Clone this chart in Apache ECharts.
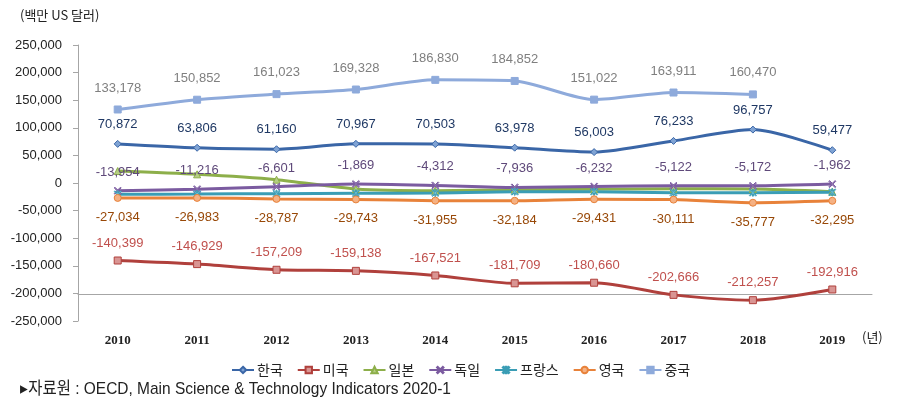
<!DOCTYPE html>
<html><head><meta charset="utf-8">
<script src="https://cdn.jsdelivr.net/npm/echarts@6/dist/echarts.min.js"></script>
<style>html,body{margin:0;padding:0;background:#fff}#c{width:902px;height:413px}</style>
</head><body><div id="c"></div>
<script>
const years = ['2010','2011','2012','2013','2014','2015','2016','2017','2018','2019'];
const korea   = [70872, 63806, 61160, 70967, 70503, 63978, 56003, 76233, 96757, 59477];
const usa     = [-140399, -146929, -157209, -159138, -167521, -181709, -180660, -202666, -212257, -192916];
const japan   = [21700, 15700, 6000, -10900, -13900, -12100, -11400, -10300, -10900, -15700];
const germany = [-13954, -11216, -6601, -1869, -4312, -7936, -6232, -5122, -5172, -1962];
const france  = [-20500, -20000, -19300, -18700, -18000, -15700, -15700, -17500, -17500, -16900];
const uk      = [-27034, -26983, -28787, -29743, -31955, -32184, -29431, -30111, -35777, -32295];
const china   = [133178, 150852, 161023, 169328, 186830, 184852, 151022, 163911, 160470, null];
const yTicks  = {min: -250000, max: 250000, interval: 50000};

const fmt = v => String(v).replace(/\B(?=(\d{3})+(?!\d))/g, ',');
const FONT = "'Liberation Sans', Arial, sans-serif";

function mk(name, data, color, fill, symbol, lbl) {
  const s = {
    name, type: 'line', data, smooth: 0.25,
    symbol, symbolSize: 7,
    lineStyle: {color, width: 3},
    itemStyle: {color: fill, borderColor: color, borderWidth: 1},
    emphasis: {disabled: true},
  };
  if (lbl) {
    s.label = {show: true, position: lbl.pos, distance: lbl.dist, color: lbl.color,
      fontSize: 13, fontFamily: FONT, formatter: p => fmt(p.value)};
  }
  return s;
}
const X = 'path://M0,1L1,0L5,4L9,0L10,1L6,5L10,9L9,10L5,6L1,10L0,9L4,5Z';
const STAR = 'path://M0,1L1,0L4.3,3.3L4.3,0L5.7,0L5.7,3.3L9,0L10,1L6.4,4.6L6.4,5.4L10,9L9,10L5.7,6.7L5.7,10L4.3,10L4.3,6.7L1,10L0,9L3.6,5.4L3.6,4.6Z';
const PLUS = 'path://M4.2,0L5.8,0L5.8,10L4.2,10Z';

const chart = echarts.init(document.getElementById('c'), null, {renderer: 'canvas'});
chart.setOption({
  animation: false,
  backgroundColor: '#fff',
  grid: {left: 78, right: 30, top: 45, bottom: 92, containLabel: false},
  xAxis: {
    type: 'category', data: years, position: 'bottom', offset: -27,
    axisLine: {onZero: false, lineStyle: {color: '#a6a6a6', width: 1}},
    axisTick: {inside: true, length: 4, lineStyle: {color: '#a6a6a6'}},
    axisLabel: {margin: 40, color: '#222', fontSize: 13, fontWeight: 'bold', fontFamily: "'Liberation Serif', serif"},
  },
  yAxis: {
    type: 'value', min: yTicks.min, max: yTicks.max, interval: yTicks.interval,
    axisLine: {show: true, lineStyle: {color: '#a6a6a6'}},
    axisTick: {show: true, length: 5, lineStyle: {color: '#a6a6a6'}},
    splitLine: {show: false},
    axisLabel: {margin: 16, color: '#222', fontSize: 13, fontFamily: FONT, formatter: v => fmt(v)},
  },
  legend: {
    left: 226, top: 358, itemWidth: 22, itemHeight: 8, itemGap: 14,
    textStyle: {fontSize: 14, color: '#222', fontFamily: "'Noto Sans CJK KR', sans-serif", padding: [0,0,0,-2]},
    data: ['한국','미국','일본','독일','프랑스','영국','중국'],
  },
  graphic: [
    {type: 'text', left: 20, top: 9, style: {text: '(백만 US 달러)', fontSize: 13, fill: '#222', fontFamily: "'Noto Sans CJK KR', sans-serif"}},
    {type: 'text', left: 862, top: 331, style: {text: '(년)', fontSize: 13, fill: '#222', fontFamily: "'Noto Sans CJK KR', sans-serif"}},
    {type: 'text', x: 20, y: 381, scaleX: 0.91, style: {text: '▸자료원 : OECD, Main Science & Technology Indicators 2020-1', fontSize: 17, fill: '#222', fontFamily: "'Liberation Sans', 'Noto Sans CJK KR', sans-serif"}},
  ],
  series: [
    mk('한국', korea, '#3A66A7', '#7FA3D4', 'diamond', {pos: 'top', dist: 9, color: '#1F3864'}),
    mk('미국', usa, '#B0403C', '#D99593', 'rect', {pos: 'top', dist: 7, color: '#C0504D'}),
    mk('일본', japan, '#8DAF4A', '#B5CE83', 'triangle', null),
    mk('독일', germany, '#7B5BA0', '#9F87BE', X, {pos: 'top', dist: 8, color: '#5F497A'}),
    mk('프랑스', france, '#3A9DB5', '#7FC6D8', STAR, null),
    mk('영국', uk, '#E8823A', '#F5B183', 'circle', {pos: 'bottom', dist: 9, color: '#984807'}),
    mk('중국', china, '#8EAADB', '#8EAADB', PLUS, {pos: 'top', dist: 11, color: '#7F7F7F'}),
  ],
});
</script></body></html>
